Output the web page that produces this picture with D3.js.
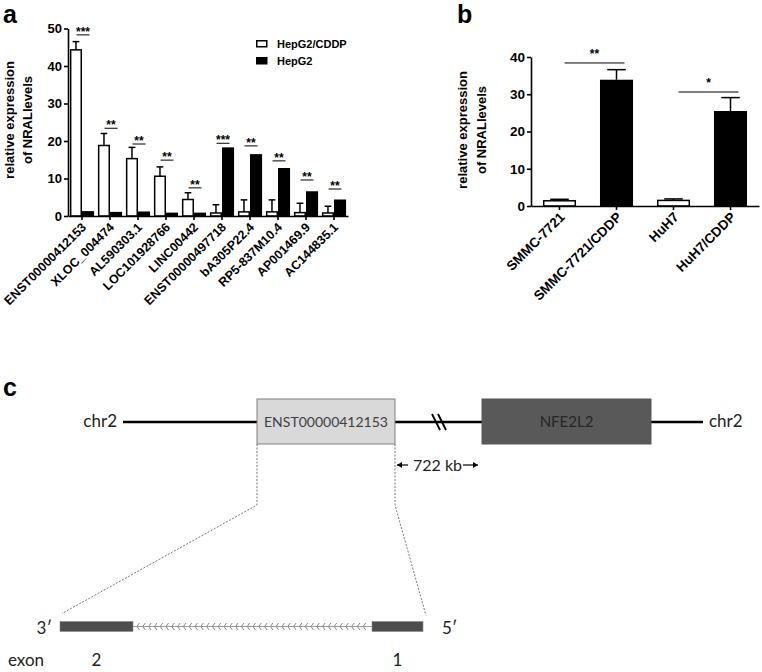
<!DOCTYPE html>
<html>
<head>
<meta charset="utf-8">
<script src="https://cdn.jsdelivr.net/npm/d3@7"></script>
<style>
  html, body { margin: 0; padding: 0; background: #fff; }
  svg { display: block; }
</style>
</head>
<body>
<script>
// ---------------- DATA ----------------
// Panel a
const genesA = ["ENST00000412153","XLOC_004474","AL590303.1","LOC101928766","LINC00442",
                "ENST00000497718","bA305P22.4","RP5-837M10.4","AP001469.9","AC144835.1"];
const seriesA = ["HepG2/CDDP","HepG2"];
const cddpA    = [44.3, 18.8, 15.3, 10.6, 4.4, 0.8, 1.1, 1.1, 0.9, 0.8];
const cddpErrA = [2.2, 3.2, 3.0, 2.5, 1.8, 2.2, 3.2, 3.2, 2.5, 1.8];
const hepg2A    = [1.3, 1.1, 1.2, 0.9, 0.9, 18.3, 16.5, 12.8, 6.6, 4.4];
const hepg2ErrA = [0, 0, 0, 0, 0, 0, 0, 0, 0, 0];
const sigLabelA = ["***","**","**","**","**","***","**","**","**","**"];
const sigLevelA = [48.3, 23.4, 19.2, 14.9, 7.5, 19.4, 18.7, 14.7, 9.6, 7.2];
const ticksA = [0, 10, 20, 30, 40, 50];

// Panel b
const cellsB  = ["SMMC-7721","SMMC-7721/CDDP","HuH7","HuH7/CDDP"];
const valuesB = [1.4, 33.9, 1.5, 25.5];
const errB    = [0.4, 2.7, 0.4, 3.6];
const resistantB = [false, true, false, true];
const sigPairsB = [[0, 1], [2, 3]];
const sigLabelB = ["**", "*"];
const sigLevelB = [38.4, 30.6];
const ticksB = [0, 10, 20, 30, 40];

// Panel c (schematic, in diagram units)
const locusFeatures = [
  {name: "ENST00000412153", start: 257, end: 395, kind: "lnc"},
  {name: "NFE2L2", start: 482, end: 651, kind: "gene"}
];
const chromLabel = "chr2";
const chromSpan = [123, 703];
const distanceLabel = "722 kb";
const exonsC = [{label: "2", start: 60, end: 133}, {label: "1", start: 372, end: 423}];

// ---------------- DRAW ----------------
const W = 762, H = 672;
const svg = d3.select("body").append("svg").attr("width", W).attr("height", H);
const FONT = "'Liberation Sans', Arial, Helvetica, sans-serif";
const DFONT = "Lato, 'Open Sans', sans-serif";

function styleAxis(g, fs) {
  g.selectAll("path.domain").attr("stroke", "#000").attr("stroke-width", 1.6);
  g.selectAll(".tick line").attr("stroke", "#000").attr("stroke-width", 1.6);
  g.selectAll(".tick text").attr("font-family", FONT).attr("font-weight", "bold")
    .attr("font-size", fs).attr("fill", "#000");
}

// ---- Panel a ----
{
  const x0 = d3.scaleBand().domain(genesA).range([68, 348]).paddingInner(0).paddingOuter(0);
  const x1 = d3.scaleBand().domain(seriesA).range([0, x0.bandwidth()]).paddingInner(0).paddingOuter(0.16);
  const y = d3.scaleLinear().domain([0, 50]).range([216, 28.5]);
  const g = svg.append("g");

  svg.append("text").attr("x", 3).attr("y", 23).text("a")
    .attr("font-family", FONT).attr("font-weight", "bold").attr("font-size", 25);

  genesA.forEach((gname, i) => {
    const gx = x0(gname);
    const vals = [cddpA[i], hepg2A[i]];
    const errs = [cddpErrA[i], hepg2ErrA[i]];
    seriesA.forEach((s, j) => {
      const bx = gx + x1(s), bw = x1.bandwidth();
      const cx = bx + bw / 2;
      if (errs[j] > 0) {
        g.append("line").attr("x1", cx).attr("x2", cx).attr("y1", y(vals[j])).attr("y2", y(vals[j] + errs[j]))
          .attr("stroke", "#000").attr("stroke-width", 1.5);
        g.append("line").attr("x1", cx - bw * 0.28).attr("x2", cx + bw * 0.28)
          .attr("y1", y(vals[j] + errs[j])).attr("y2", y(vals[j] + errs[j]))
          .attr("stroke", "#000").attr("stroke-width", 1.5);
      }
      g.append("rect").attr("x", bx + (j === 0 ? 0.75 : 0)).attr("y", y(vals[j]))
        .attr("width", bw - (j === 0 ? 1.5 : 0)).attr("height", y(0) - y(vals[j]))
        .attr("fill", j === 0 ? "#fff" : "#000").attr("stroke", "#000").attr("stroke-width", j === 0 ? 1.5 : 0);
    });
    const c = gx + x0.bandwidth() / 2 + 1;
    g.append("line").attr("x1", c - 6.5).attr("x2", c + 6.5).attr("y1", y(sigLevelA[i])).attr("y2", y(sigLevelA[i]))
      .attr("stroke", "#000").attr("stroke-width", 1);
    g.append("text").attr("x", c).attr("y", y(sigLevelA[i]) + 1).attr("text-anchor", "middle")
      .attr("font-family", FONT).attr("font-weight", "bold").attr("font-size", 12).text(sigLabelA[i]);
  });

  const ya = g.append("g").attr("transform", "translate(68,0)")
    .call(d3.axisLeft(y).tickValues(ticksA).tickSize(4).tickSizeOuter(0));
  styleAxis(ya, 13);
  ya.selectAll(".tick text").attr("x", -6);

  const xa = g.append("g").attr("transform", "translate(0,216)")
    .call(d3.axisBottom(x0).tickSize(4).tickSizeOuter(0));
  styleAxis(xa, 12.5);
  xa.selectAll(".tick text").attr("text-anchor", "end").attr("dy", null).attr("y", null)
    .attr("transform", "translate(5,12) rotate(-45)");

  const yt = svg.append("text").attr("transform", "translate(13.5,120) rotate(-90)")
    .attr("text-anchor", "middle").attr("font-family", FONT).attr("font-weight", "bold").attr("font-size", 13);
  yt.append("tspan").attr("x", 0).attr("y", 0).text("relative expression");
  yt.append("tspan").attr("x", 0).attr("y", 18).text("of NRALlevels");

  const lg = svg.append("g").attr("transform", "translate(256,40)");
  seriesA.forEach((s, j) => {
    lg.append("rect").attr("x", 0.75).attr("y", j * 17 + 0.75).attr("width", 10).attr("height", 6)
      .attr("fill", j === 0 ? "#fff" : "#000").attr("stroke", "#000").attr("stroke-width", 1.5);
    lg.append("text").attr("x", 21).attr("y", j * 17 + 7.5).text(s)
      .attr("font-family", FONT).attr("font-weight", "bold").attr("font-size", 11);
  });
}

// ---- Panel b ----
{
  const x = d3.scaleBand().domain(cellsB).range([531, 759]).paddingInner(0.42).paddingOuter(0.21);
  const y = d3.scaleLinear().domain([0, 40]).range([206, 57]);
  const g = svg.append("g");

  svg.append("text").attr("x", 457).attr("y", 23).text("b")
    .attr("font-family", FONT).attr("font-weight", "bold").attr("font-size", 25);

  cellsB.forEach((c, i) => {
    const bx = x(c), bw = x.bandwidth(), cx = bx + bw / 2;
    const v = valuesB[i], e = errB[i];
    g.append("line").attr("x1", cx).attr("x2", cx).attr("y1", y(v)).attr("y2", y(v + e))
      .attr("stroke", "#000").attr("stroke-width", 1.5);
    g.append("line").attr("x1", cx - bw * 0.28).attr("x2", cx + bw * 0.28).attr("y1", y(v + e)).attr("y2", y(v + e))
      .attr("stroke", "#000").attr("stroke-width", 1.5);
    g.append("rect").attr("x", bx + (resistantB[i] ? 0 : 0.75)).attr("y", y(v))
      .attr("width", bw - (resistantB[i] ? 0 : 1.5)).attr("height", y(0) - y(v))
      .attr("fill", resistantB[i] ? "#000" : "#fff").attr("stroke", "#000")
      .attr("stroke-width", resistantB[i] ? 0 : 1.5);
  });

  sigPairsB.forEach((p, k) => {
    const c0 = x(cellsB[p[0]]) + x.bandwidth() / 2 + 5;
    const c1 = x(cellsB[p[1]]) + x.bandwidth() / 2 + 8;
    g.append("line").attr("x1", c0).attr("x2", c1).attr("y1", y(sigLevelB[k])).attr("y2", y(sigLevelB[k]))
      .attr("stroke", "#000").attr("stroke-width", 1);
    g.append("text").attr("x", (c0 + c1) / 2).attr("y", y(sigLevelB[k]) - 5).attr("text-anchor", "middle")
      .attr("font-family", FONT).attr("font-weight", "bold").attr("font-size", 12).text(sigLabelB[k]);
  });

  const ya = g.append("g").attr("transform", "translate(531,0)")
    .call(d3.axisLeft(y).tickValues(ticksB).tickSize(4).tickSizeOuter(0));
  styleAxis(ya, 13.5);
  ya.selectAll(".tick text").attr("x", -6);

  const xa = g.append("g").attr("transform", "translate(0,206)")
    .call(d3.axisBottom(x).tickSize(4).tickSizeOuter(0));
  styleAxis(xa, 13.5);
  xa.selectAll(".tick text").attr("text-anchor", "end").attr("dy", null).attr("y", null)
    .attr("transform", "translate(6,12) rotate(-45)");

  const yt = svg.append("text").attr("transform", "translate(467,130) rotate(-90)")
    .attr("text-anchor", "middle").attr("font-family", FONT).attr("font-weight", "bold").attr("font-size", 13);
  yt.append("tspan").attr("x", 0).attr("y", 0).text("relative expression");
  yt.append("tspan").attr("x", 0).attr("y", 19).text("of NRALlevels");
}

// ---- Panel c ----
{
  const sx = d3.scaleLinear().domain([0, 762]).range([0, 762]);
  const g = svg.append("g");
  const lineY = 422, boxTop = 399, boxBot = 444;
  const geneY = 626.5, exonH = 10;

  svg.append("text").attr("x", 3).attr("y", 396).text("c")
    .attr("font-family", FONT).attr("font-weight", "bold").attr("font-size", 25);

  g.append("line").attr("x1", sx(chromSpan[0])).attr("x2", sx(chromSpan[1])).attr("y1", lineY).attr("y2", lineY)
    .attr("stroke", "#000").attr("stroke-width", 2.5);
  g.append("text").attr("x", sx(chromSpan[0]) - 6).attr("y", lineY + 5).attr("text-anchor", "end")
    .attr("font-family", DFONT).attr("font-size", 17).attr("fill", "#222").text(chromLabel);
  g.append("text").attr("x", sx(chromSpan[1]) + 6).attr("y", lineY + 5)
    .attr("font-family", DFONT).attr("font-size", 17).attr("fill", "#222").text(chromLabel);

  const bk = sx(439);
  [-3, 3].forEach(d => {
    g.append("line").attr("x1", bk + d - 4).attr("y1", lineY - 8).attr("x2", bk + d + 4).attr("y2", lineY + 8)
      .attr("stroke", "#000").attr("stroke-width", 1.8);
  });

  locusFeatures.forEach(f => {
    g.append("rect").attr("x", sx(f.start)).attr("y", boxTop).attr("width", sx(f.end) - sx(f.start))
      .attr("height", boxBot - boxTop)
      .attr("fill", f.kind === "lnc" ? "#d9d9d9" : "#595959")
      .attr("stroke", f.kind === "lnc" ? "#7f7f7f" : "#595959").attr("stroke-width", 1);
    g.append("text").attr("x", (sx(f.start) + sx(f.end)) / 2).attr("y", lineY + 5).attr("text-anchor", "middle")
      .attr("font-family", DFONT).attr("font-size", f.kind === "lnc" ? 14 : 15)
      .attr("fill", f.kind === "lnc" ? "#404040" : "#262626").text(f.name);
  });

  const dY = 465;
  const aL = sx(locusFeatures[0].end) + 2;
  const arrow = (xa, xb) => {
    g.append("line").attr("x1", xa).attr("x2", xb).attr("y1", dY).attr("y2", dY).attr("stroke", "#000").attr("stroke-width", 1.2);
    const dir = Math.sign(xb - xa);
    g.append("path").attr("d", `M${xb},${dY} L${xb - dir * 5},${dY - 3} L${xb - dir * 5},${dY + 3} Z`).attr("fill", "#000");
  };
  arrow(aL + 11, aL);
  arrow(sx(463), sx(478));
  g.append("text").attr("x", sx(413)).attr("y", dY + 6).attr("font-family", DFONT).attr("font-size", 16)
    .attr("fill", "#222").text(distanceLabel);

  const lnc = locusFeatures[0];
  const bendY = 505;
  const guide = d3.line();
  [[[sx(lnc.start), boxBot], [sx(lnc.start), bendY], [sx(exonsC[0].start) + 2, geneY - 13]],
   [[sx(lnc.end), boxBot], [sx(lnc.end), bendY], [sx(exonsC[1].end) + 3, geneY - 11]]].forEach(pts => {
    g.append("path").attr("d", guide(pts)).attr("fill", "none").attr("stroke", "#555")
      .attr("stroke-width", 0.8).attr("stroke-dasharray", "2,1.5");
  });

  const iA = sx(exonsC[0].end), iB = sx(exonsC[1].start);
  g.append("line").attr("x1", iA).attr("x2", iB).attr("y1", geneY).attr("y2", geneY)
    .attr("stroke", "#9a9a9a").attr("stroke-width", 1.2);
  const nChev = Math.floor((iB - iA - 6) / 5.8);
  d3.range(nChev).forEach(k => {
    const cx = iA + 4 + k * 5.8;
    g.append("path").attr("d", `M${cx + 2.5},${geneY - 3.5} L${cx},${geneY} L${cx + 2.5},${geneY + 3.5}`)
      .attr("fill", "none").attr("stroke", "#8a8a8a").attr("stroke-width", 1);
  });

  exonsC.forEach(e => {
    g.append("rect").attr("x", sx(e.start)).attr("y", geneY - exonH / 2).attr("width", sx(e.end) - sx(e.start))
      .attr("height", exonH).attr("fill", "#4d4d4d").attr("stroke", "#888").attr("stroke-width", 0.6);
    g.append("text").attr("x", (sx(e.start) + sx(e.end)) / 2).attr("y", 666)
      .attr("text-anchor", "middle").attr("font-family", DFONT).attr("font-size", 17).attr("fill", "#222").text(e.label);
  });

  g.append("text").attr("x", sx(exonsC[0].start) - 8).attr("y", geneY + 7).attr("text-anchor", "end")
    .attr("font-family", DFONT).attr("font-size", 17).attr("fill", "#222").text("3\u2032");
  g.append("text").attr("x", sx(exonsC[1].end) + 19).attr("y", geneY + 7)
    .attr("font-family", DFONT).attr("font-size", 17).attr("fill", "#222").text("5\u2032");
  g.append("text").attr("x", 8).attr("y", 666)
    .attr("font-family", DFONT).attr("font-size", 17).attr("fill", "#222").text("exon");
}
</script>
</body>
</html>
